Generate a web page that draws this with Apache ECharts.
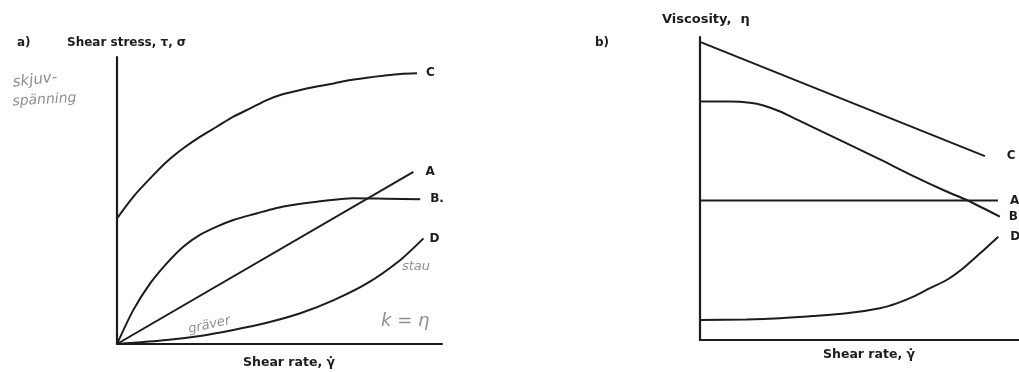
<!DOCTYPE html>
<html>
<head>
<meta charset="utf-8">
<script src="https://cdn.jsdelivr.net/npm/echarts@6/dist/echarts.min.js"></script>
<style>
html,body{margin:0;padding:0;background:#fff;}
#chart{width:1019px;height:372px;}
</style>
</head>
<body>
<div id="chart"></div>
<script>
// Panel a) Shear stress vs shear rate (x, y in relative units 0..100)
const stressC = [[0,43.8],[5.0,51.3],[10.2,57.7],[15.3,63.5],[20.4,68.2],[25.5,72.2],[30.7,75.7],[35.8,79.2],[41.0,82.1],[46.1,85.0],[51.2,87.1],[56.4,88.5],[61.5,89.7],[66.7,90.8],[71.8,92.0],[76.9,92.8],[82.0,93.5],[87.2,94.1],[92.3,94.3]];
const stressA = [[0,0],[91.2,60.0]];
const stressB = [[0,0],[5.0,11.8],[10.2,21.1],[15.3,28.1],[20.4,33.9],[25.5,38.0],[30.7,40.9],[35.8,43.2],[41.0,44.9],[51.2,47.9],[61.5,49.6],[72.8,50.8],[83.1,50.6],[93.3,50.4]];
const stressD = [[0,0],[15.3,1.4],[25.5,2.8],[35.8,4.9],[46.1,7.4],[56.4,10.7],[66.7,15.3],[76.9,21.1],[87.2,29.3],[94.3,36.8]];
// Panel b) Viscosity vs shear rate
const viscC = [[0,98.4],[89.3,60.7]];
const viscA = [[0,46.0],[93.4,46.0]];
const viscB = [[0,78.7],[9.4,78.7],[15.7,78.3],[19.9,77.4],[25.1,75.4],[30.3,72.8],[35.5,70.2],[46.0,64.9],[56.4,59.6],[66.9,54.1],[77.3,49.0],[83.6,46.2],[94.0,40.7]];
const viscD = [[0,6.6],[14.6,6.8],[25.1,7.2],[35.5,7.9],[46.0,8.8],[56.4,10.5],[61.7,12.1],[66.9,14.3],[72.1,17.1],[77.3,19.8],[82.5,23.7],[87.8,28.6],[93.5,34.1]];
const seriesNamesA = ['C','A','B.','D'];
const seriesNamesB = ['C','A','B','D'];

const chart = echarts.init(document.getElementById('chart'), null, {renderer:'canvas'});
const ink = '#1c1c1c';
const lblFont = {fontFamily:'DejaVu Sans', fontWeight:'bold', fontSize:12, color:ink};

function axis(gi){
  return {
    gridIndex: gi, type:'value', min:0, max:100,
    axisLine:{show:true, onZero:false, lineStyle:{color:ink, width:2.2}},
    axisTick:{show:false}, axisLabel:{show:false}, splitLine:{show:false}
  };
}
function line(name, data, gi, smooth, dx){
  return {
    type:'line', name:name, data:data, xAxisIndex:gi, yAxisIndex:gi,
    smooth:smooth, symbol:'none', silent:true,
    lineStyle:{color:ink, width:2},
    endLabel:{show:true, formatter:name, distance:dx, ...lblFont}
  };
}

chart.setOption({
  animation:false,
  backgroundColor:'#fff',
  grid:[
    {left:117, top:57, width:325, height:287},
    {left:700, top:37, width:319, height:303}
  ],
  xAxis:[axis(0), axis(1)],
  yAxis:[axis(0), axis(1)],
  series:[
    line(seriesNamesA[0], stressC, 0, 0.25, 9),
    line(seriesNamesA[1], stressA, 0, false, 12),
    line(seriesNamesA[2], stressB, 0, 0.25, 10),
    line(seriesNamesA[3], stressD, 0, 0.25, 6),
    line(seriesNamesB[0], viscC, 1, false, 22),
    line(seriesNamesB[1], viscA, 1, false, 12),
    line(seriesNamesB[2], viscB, 1, 0.25, 9),
    line(seriesNamesB[3], viscD, 1, 0.25, 12)
  ],
  graphic:[
    {type:'text', left:17, top:37, style:{text:'a)', fill:ink, font:'bold 12px DejaVu Sans'}},
    {type:'text', left:67, top:37, style:{text:'Shear stress, τ, σ', fill:ink, font:'bold 12px DejaVu Sans'}},
    {type:'text', left:243, top:356, style:{text:'Shear rate, γ̇', fill:ink, font:'bold 12.5px DejaVu Sans'}},
    {type:'text', left:595, top:37, style:{text:'b)', fill:ink, font:'bold 12px DejaVu Sans'}},
    {type:'text', left:662, top:13, style:{text:'Viscosity,  η', fill:ink, font:'bold 13px DejaVu Sans'}},
    {type:'text', left:823, top:348, style:{text:'Shear rate, γ̇', fill:ink, font:'bold 12.5px DejaVu Sans'}},
    {type:'text', left:12, top:70, rotation:0.12, style:{text:'skjuv-', fill:'#8f8f8f', font:'italic 15px DejaVu Sans'}},
    {type:'text', left:12, top:91, rotation:0.06, style:{text:'spänning', fill:'#8f8f8f', font:'italic 14px DejaVu Sans'}},
    {type:'text', x:190, y:336, rotation:0.22, style:{text:'gräver', fill:'#8f8f8f', font:'italic 13px DejaVu Sans', textVerticalAlign:'bottom'}},
    {type:'text', left:402, top:260, style:{text:'stau', fill:'#8f8f8f', font:'italic 13px DejaVu Sans'}},
    {type:'text', left:381, top:312, style:{text:'k = η', fill:'#8f8f8f', font:'italic 18px DejaVu Sans'}}
  ]
});
</script>
</body>
</html>
